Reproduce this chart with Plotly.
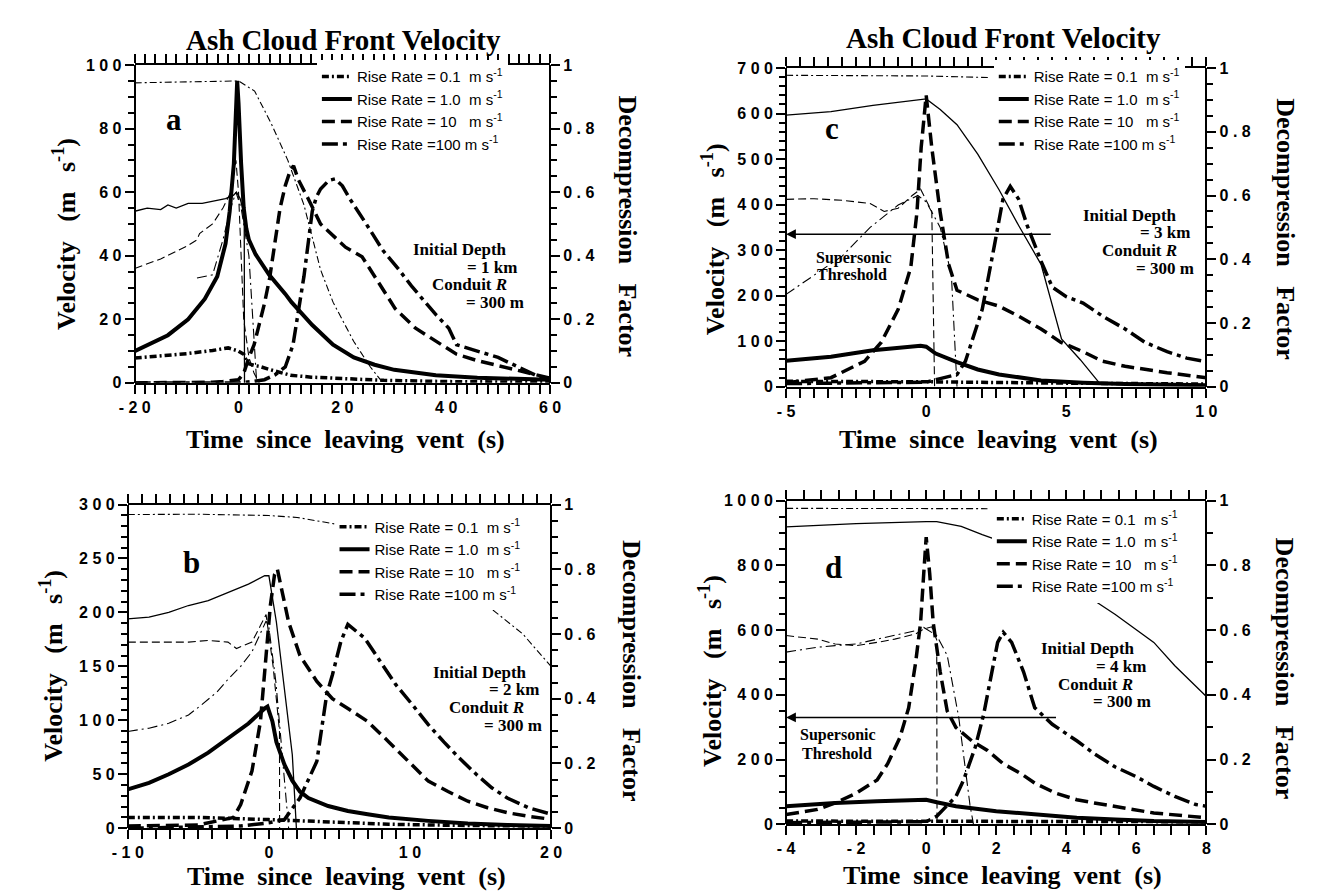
import plotly.graph_objects as go

W, H = 1322, 892

# ---------------- Panel a : initial depth 1 km ----------------
a_v01_t = [-20, -15, -10, -5, -2, 0, 1, 1.5, 2, 3, 4, 6, 8, 10, 14, 20, 28, 40, 60]
a_v01 = [7.8, 8.5, 9.2, 10.2, 11, 10, 9, 7, 6, 5.5, 5.2, 4.2, 3.2, 2.4, 1.8, 1.3, 0.8, 0.4, 0.2]
a_v1_t = [-20, -13.6, -9.7, -6.5, -4.1, -2.5, -1.7, -0.9, -0.26, 0, 0.5, 1, 1.5, 2, 3.3, 5.9, 9,
          10.2, 14.2, 18.2, 22.2, 26.2, 30, 38, 46, 60]
a_v1 = [10, 15, 20, 26.4, 33.5, 43.8, 54, 69, 95, 88, 69, 55, 48.6, 45, 40.4, 34, 28,
        25.4, 18.2, 12, 8, 5.7, 4.1, 2.4, 1.6, 1]
a_v10_t = [-20, -10, -5, -3, 0, 1, 2, 3, 4, 5, 6, 7, 8, 9, 10, 10.6, 11.5, 13.4, 15.8, 20.6,
           23.8, 27, 30.2, 34.1, 38, 42, 46, 54, 60]
a_v10 = [0, 0, 0.2, 0.4, 1, 3, 8, 12, 18, 25, 33, 44, 55, 62, 67, 68.3, 64, 58, 50, 42.7,
         39.7, 31.5, 23.3, 17.2, 13, 9, 7, 3.9, 1.5]
a_v100_t = [-20, 0, 3, 5, 7, 9, 10.5, 11.5, 12.6, 13.5, 14.2, 15, 15.8, 17.4, 18.6, 20, 21.4,
            24.6, 27.8, 30.9, 33.3, 38.1, 40.5, 42, 46, 50, 54, 58, 60]
a_v100 = [0, 0, 0.5, 1, 2.5, 5, 12, 22, 33.5, 45, 54, 58.5, 61, 63.7, 64.2, 62, 58,
          50, 41.7, 35.6, 30.5, 21.3, 17.2, 12, 10, 8, 4.9, 1.8, 1]
a_d01_t = [-20, -10, 0, 3.1, 6.3, 9.5, 12.6, 14.2, 15.8, 18.2, 22.2, 25.4, 27.8]
a_d01 = [0.944, 0.946, 0.95, 0.918, 0.816, 0.70, 0.56, 0.458, 0.356, 0.254, 0.13, 0.05, 0]
a_d1_t = [-20, -17.6, -15, -13.6, -12, -11.2, -9.7, -7, -5.7, -4, -2.5, -1, -0.4, 0.3, 0.8, 1.1, 1.15]
a_d1 = [0.54, 0.55, 0.545, 0.56, 0.55, 0.555, 0.565, 0.565, 0.57, 0.575, 0.58, 0.59, 0.6, 0.58,
        0.55, 0.5, 0]
a_d10_t = [-20, -15, -10, -8, -7.5, -5, -3, -1.5, -0.5, 0, 0.5, 1, 2, 3, 4]
a_d10 = [0.36, 0.39, 0.43, 0.45, 0.47, 0.5, 0.55, 0.6, 0.7, 0.6, 0.4, 0.2, 0.08, 0.03, 0]
a_d100_t = [-8, -5, -3, -1.5, -0.5, 0.5, 2, 3, 3.5]
a_d100 = [0.33, 0.34, 0.45, 0.55, 0.6, 0.55, 0.4, 0.15, 0]

# ---------------- Panel b : initial depth 2 km ----------------
b_v01_t = [-10, -5, 0, 2.8, 8.5, 14, 20]
b_v01 = [10, 10, 8, 6.8, 3.7, 2.5, 2]
b_v1_t = [-10, -8.5, -7.1, -5.7, -4.3, -2.9, -1.45, -0.3, -0.1, 0.25, 0.53, 1.1, 1.66, 2.2, 2.8,
          4.2, 5.6, 7, 8.5, 11.3, 14.1, 16.9, 20]
b_v1 = [36, 42, 50, 59, 70, 83.5, 97, 111, 112.7, 99, 80, 59, 44, 34, 28,
        20.6, 16, 13, 10, 6.8, 4.3, 3, 2]
b_v10_t = [-10, -5, -2.5, -2, -1.2, -0.6, -0.2, 0.1, 0.4, 0.6, 1.4, 2.2, 3.4, 4.5, 5.6, 7, 8.5,
           9.9, 11.3, 12.7, 14.1, 15.5, 16.9, 18.4, 20]
b_v10 = [2, 3, 10, 22, 53, 99, 160, 206, 235, 240, 191, 160, 136, 120, 111, 99, 80,
         62, 43.6, 34, 25, 19, 14.4, 11, 8.3]
b_v100_t = [-10, -2, 0, 0.5, 1.1, 2.2, 3.4, 4.1, 4.5, 5.1, 5.6, 6.8, 7.9, 9, 10.2, 11.3, 12.4,
            13.5, 14.7, 15.8, 16.9, 18.4, 20]
b_v100 = [0, 2, 5, 6, 8, 28, 62, 124, 142, 173, 189, 176, 154, 133, 114, 96, 80,
          65, 50, 37.5, 28, 19, 13]
b_d01_t = [-10, -5, 0, 2, 4, 6, 8, 10, 12, 14, 16, 18, 20]
b_d01 = [0.969, 0.97, 0.966, 0.96, 0.945, 0.93, 0.9, 0.86, 0.8, 0.74, 0.67, 0.6, 0.5]
b_d1_t = [-10, -8.5, -7.1, -5.7, -4.3, -2.9, -1.45, -0.3, 0, 0.53, 1.1, 1.66, 1.95]
b_d1 = [0.647, 0.652, 0.667, 0.688, 0.703, 0.729, 0.754, 0.78, 0.78, 0.637, 0.43, 0.227, 0]
b_d10_t = [-10, -5.7, -4.3, -2.9, -2.3, -1.2, -0.6, -0.2, 0.3, 0.75, 0.76]
b_d10 = [0.575, 0.575, 0.58, 0.575, 0.555, 0.575, 0.626, 0.66, 0.5, 0.3, 0]
b_d100_t = [-10, -8.5, -7.1, -5.7, -4.8, -3.7, -2.9, -2, -1.2, -0.6, -0.2, 0, 0.5, 1, 1.4]
b_d100 = [0.299, 0.309, 0.324, 0.35, 0.38, 0.42, 0.46, 0.5, 0.545, 0.6, 0.64, 0.62, 0.45, 0.2, 0]

# ---------------- Panel c : initial depth 3 km ----------------
c_v01_t = [-5, 0, 5, 10]
c_v01 = [12, 11, 8, 6]
c_v1_t = [-5, -3.4, -1.9, -0.4, -0.2, 0, 0.34, 1.1, 1.84, 2.6, 3.3, 4.1, 5.6, 7.1, 10]
c_v1 = [57, 66, 80, 89, 90, 88, 73, 54, 38, 27, 20, 14, 9, 6, 3.5]
c_v10_t = [-5, -3.4, -2.2, -1.6, -1.0, -0.55, -0.33, -0.18, 0, 0.2, 0.5, 0.8, 1.1, 1.84, 2.6,
           3.3, 4.1, 4.8, 5.6, 6.3, 7.1, 8.6, 10]
c_v10 = [9, 20, 56, 98, 170, 262, 383, 525, 640, 525, 383, 269, 212, 191, 177,
         155, 127, 98, 77, 56, 45, 31, 20]
c_v100_t = [-5, -1, 0, 0.5, 1.1, 1.4, 2.0, 2.44, 2.74, 3.0, 3.3, 3.6, 4.1, 4.5, 5.0, 5.6, 6.3,
            7.1, 7.8, 8.6, 9.3, 10]
c_v100 = [7, 8, 10, 18, 27, 56, 170, 312, 412, 440, 412, 355, 276, 219, 198, 184, 155,
          127, 98, 77, 63, 55]
c_d01_t = [-5, 0, 2.2]
c_d01 = [0.977, 0.975, 0.97]
c_d1_t = [-5, -3.4, -1.9, -0.4, 0, 0.5, 1.1, 1.84, 2.6, 3.3, 4.1, 4.83, 5.5, 6.2]
c_d1 = [0.852, 0.863, 0.883, 0.898, 0.903, 0.87, 0.822, 0.73, 0.618, 0.506, 0.384, 0.15, 0.085, 0.01]
c_d10_t = [-5, -4, -3, -2, -1.5, -1, -0.5, -0.2, 0.2, 0.3]
c_d10 = [0.588, 0.59, 0.585, 0.575, 0.55, 0.56, 0.6, 0.62, 0.55, 0]
c_d100_t = [-5, -4, -3, -2, -1, -0.3, 0, 0.5, 0.9, 1.1]
c_d100 = [0.29, 0.35, 0.41, 0.5, 0.57, 0.6, 0.58, 0.5, 0.35, 0]

# ---------------- Panel d : initial depth 4 km ----------------
d_v01_t = [-4, 0, 4, 8]
d_v01 = [10, 10, 9, 8]
d_v1_t = [-4, -2.6, -1.4, -0.3, 0, 0.3, 0.85, 2, 3.1, 4.3, 5.4, 6.5, 8]
d_v1 = [56, 66, 71, 76, 76, 68, 56, 40.5, 30, 20, 15, 10, 7]
d_v10_t = [-4, -3.1, -2.6, -2, -1.4, -1.1, -0.75, -0.5, -0.3, -0.16, -0.07, 0, 0.1, 0.2, 0.4, 0.6,
           0.85, 1.3, 1.75, 2.2, 2.7, 3.1, 3.7, 4.3, 4.8, 5.4, 6.5, 8]
d_v10 = [30, 46, 66, 96, 137, 187, 268, 360, 501, 623, 775, 887, 775, 623, 471, 350,
         299, 258, 228, 187, 157, 127, 96, 76, 66, 56, 35, 20]
d_v100_t = [-4, 0, 0.3, 0.6, 0.85, 1.07, 1.4, 1.64, 1.87, 2.04, 2.2, 2.44, 2.78, 3.1, 3.6, 4.3,
            4.8, 5.4, 6, 6.5, 7.1, 7.7, 8]
d_v100 = [5, 8, 25, 60, 86, 137, 238, 339, 461, 562, 593, 562, 471, 360, 309, 258,
          218, 177, 147, 117, 86, 61, 56]
d_d01_t = [-4, 0, 1.75]
d_d01 = [0.976, 0.976, 0.975]
d_d1_t = [-4, -2, 0, 0.3, 1, 1.6, 2.5, 3.5, 4.6, 5.4, 6.5, 7.1, 8]
d_d1 = [0.919, 0.929, 0.935, 0.935, 0.92, 0.895, 0.86, 0.8, 0.705, 0.648, 0.562, 0.49, 0.395]
d_d10_t = [-4, -3.1, -2.6, -2, -1.4, -0.9, -0.3, -0.07, 0.16, 0.3, 0.31]
d_d10 = [0.583, 0.572, 0.557, 0.552, 0.562, 0.572, 0.588, 0.603, 0.61, 0.57, 0]
d_d100_t = [-4, -3.1, -2.6, -2, -1.4, -0.9, -0.3, -0.07, 0.3, 0.6, 0.93, 1.25, 1.35]
d_d100 = [0.532, 0.547, 0.552, 0.557, 0.572, 0.583, 0.598, 0.608, 0.583, 0.522, 0.33, 0.06, 0]

# supersonic threshold (m/s) read for panels c and d
c_supersonic = 335
d_supersonic = 330

RATES = ["0.1", "1.0", "10", "100"]
NB = "\u00a0"
LEG_TEXT = {
    "0.1": "Rise Rate = 0.1" + NB + " m s<sup>-1</sup>",
    "1.0": "Rise Rate = 1.0" + NB + " m s<sup>-1</sup>",
    "10": "Rise Rate = 10" + NB + NB + " m s<sup>-1</sup>",
    "100": "Rise Rate =100 m s<sup>-1</sup>",
}
THICK = {
    "0.1": dict(width=3.5, dash="7px,3px,2px,3px"),
    "1.0": dict(width=4, dash="solid"),
    "10": dict(width=3.5, dash="13px,6px"),
    "100": dict(width=3.5, dash="16px,5px,4px,5px"),
}
THIN = {
    "0.1": dict(width=1.1, dash="7px,3px,2px,3px"),
    "1.0": dict(width=1.3, dash="solid"),
    "10": dict(width=1.1, dash="8px,4px"),
    "100": dict(width=1.1, dash="10px,4px,2px,4px"),
}

PANELS = {
    "a": dict(x="x", y="y", y2="y2", legend="legend",
              vel=[(a_v01_t, a_v01), (a_v1_t, a_v1), (a_v10_t, a_v10), (a_v100_t, a_v100)],
              dec=[(a_d01_t, a_d01), (a_d1_t, a_d1), (a_d10_t, a_d10), (a_d100_t, a_d100)]),
    "b": dict(x="x2", y="y3", y2="y4", legend="legend2",
              vel=[(b_v01_t, b_v01), (b_v1_t, b_v1), (b_v10_t, b_v10), (b_v100_t, b_v100)],
              dec=[(b_d01_t, b_d01), (b_d1_t, b_d1), (b_d10_t, b_d10), (b_d100_t, b_d100)]),
    "c": dict(x="x3", y="y5", y2="y6", legend="legend3",
              vel=[(c_v01_t, c_v01), (c_v1_t, c_v1), (c_v10_t, c_v10), (c_v100_t, c_v100)],
              dec=[(c_d01_t, c_d01), (c_d1_t, c_d1), (c_d10_t, c_d10), (c_d100_t, c_d100)]),
    "d": dict(x="x4", y="y7", y2="y8", legend="legend4",
              vel=[(d_v01_t, d_v01), (d_v1_t, d_v1), (d_v10_t, d_v10), (d_v100_t, d_v100)],
              dec=[(d_d01_t, d_d01), (d_d1_t, d_d1), (d_d10_t, d_d10), (d_d100_t, d_d100)]),
}

fig = go.Figure()
for key, p in PANELS.items():
    for rate, (tt, vv) in zip(RATES, p["dec"]):
        fig.add_trace(go.Scatter(x=tt, y=vv, mode="lines", xaxis=p["x"], yaxis=p["y2"],
                                 line=dict(color="black", **THIN[rate]), showlegend=False,
                                 hoverinfo="skip"))
    for rate, (tt, vv) in zip(RATES, p["vel"]):
        fig.add_trace(go.Scatter(x=tt, y=vv, mode="lines", xaxis=p["x"], yaxis=p["y"],
                                 line=dict(color="black", **THICK[rate]), name=LEG_TEXT[rate],
                                 legend=p["legend"], showlegend=True))


def fx(p):
    return p / W


def fy(p):
    return 1 - p / H


TICKFONT = dict(family="Liberation Sans", size=16, color="black", weight="bold")
SERIF = "Liberation Serif"


def fmt(v):
    s = "%g" % v
    return s.replace("-", "\u2212")


def spaced(v):
    s = "%g" % v
    return " ".join(list(s))


def alias(rng, step):
    out = {}
    v = rng[0]
    while v <= rng[1] + 1e-9:
        vv = round(v, 6)
        out[fmt(vv)] = spaced(vv)
        v += step
    return out


def common(rng, step, minor, ticklen=9):
    return dict(range=rng, showline=True, linewidth=2, linecolor="black",
                ticks="outside", ticklen=ticklen, tickwidth=2, tickcolor="black",
                tickmode="linear", tick0=rng[0], dtick=step, labelalias=alias(rng, step),
                tickfont=TICKFONT, showgrid=False, zeroline=False,
                minor=dict(ticks="outside", dtick=minor, tick0=rng[0], ticklen=6,
                           tickwidth=1.5, tickcolor="black", showgrid=False))


def xaxis(dom, rng, step, minor, anchor):
    d = common(rng, step, minor)
    d.update(domain=[fx(dom[0]), fx(dom[1])], anchor=anchor, mirror="allticks")
    return d


def yaxis(xdom, ydom, rng, step, minor, side="left", overlay=None):
    d = common(rng, step, minor)
    pos = fx(xdom[0]) if side == "left" else fx(xdom[1])
    d.update(anchor="free", position=pos, side=side)
    if overlay:
        d["overlaying"] = overlay
    else:
        d["domain"] = [fy(ydom[1]), fy(ydom[0])]
    return d


# frames in pixels: (left, right), (top, bottom)
FRAMES = {
    "a": ((113, 537), (50, 374)),
    "b": ((106, 538), (498, 828)),
    "c": ((778, 1207), (53, 378)),
    "d": ((778, 1207), (494, 824)),
}
# x range/step/minor, velocity range/step/minor, DF step/minor
SCALES = {
    "a": ([-20, 60], 20, 2, [0, 100], 20, 5, 0.2, 0.05),
    "b": ([-10, 20], 10, 1, [0, 300], 50, 10, 0.2, 0.05),
    "c": ([-5, 10], 5, 0.5, [0, 700], 100, 20, 0.2, 0.05),
    "d": ([-4, 8], 2, 0.5, [0, 1000], 200, 50, 0.2, 0.1),
}


def lname(axid):
    return ("xaxis" if axid[0] == "x" else "yaxis") + axid[1:]


layout = dict(width=W, height=H, margin=dict(l=0, r=0, t=0, b=0),
              paper_bgcolor="white", plot_bgcolor="rgba(0,0,0,0)", showlegend=True)
for key, p in PANELS.items():
    fxr, fyr = FRAMES[key]
    xr, xs, xm, vr, vs, vm, ds, dm = SCALES[key]
    layout[lname(p["x"])] = xaxis(fxr, xr, xs, xm, p["y"])
    layout[lname(p["y"])] = yaxis(fxr, fyr, vr, vs, vm)
    layout[lname(p["y2"])] = yaxis(fxr, fyr, [0, 1], ds, dm, "right", p["y"])

LEGFONT = dict(family="Liberation Sans", size=15, color="black")
for name, (lx, ly) in {"legend": (299, 45), "legend2": (317, 504),
                       "legend3": (990, 45), "legend4": (988, 496)}.items():
    layout[name] = dict(x=fx(lx), y=fy(ly), xanchor="left", yanchor="top",
                        bgcolor="white", borderwidth=0, font=LEGFONT, tracegroupgap=0,
                        itemclick=False, itemdoubleclick=False)

fig.update_layout(**layout)

ann = []


def text(xp, yp, s, size, xanchor="center", angle=0, family=SERIF):
    ann.append(dict(x=fx(xp), y=fy(yp), xref="paper", yref="paper", text=s, showarrow=False,
                    xanchor=xanchor, yanchor="middle", textangle=angle,
                    font=dict(family=family, size=size, color="black", weight="bold")))


TITLE = "Ash Cloud Front Velocity"
XT = "Time" + NB + " since" + NB + " leaving" + NB + " vent" + NB + " (s)"
YT = "Velocity" + NB + NB + " (m" + NB + NB + " s<sup>-1</sup>)"
RT = "Decompression" + NB + NB + " Factor"

text(326, 24, TITLE, 29)
text(1000, 22, TITLE, 29)
for cx, cy in [(328, 432), (995, 432), (329, 877), (999, 876)]:
    text(cx, cy, XT, 26)
for cx, cy in [(42, 222), (704, 228), (28, 662), (701, 668)]:
    text(cx, cy, YT, 26, angle=-90)
for cx, cy in [(616, 215), (1287, 217), (620, 668), (1287, 665)]:
    text(cx, cy, RT, 26, angle=90)

for s, cx, cy in [("a", 153, 106), ("c", 825, 115), ("b", 171, 557), ("d", 826, 562)]:
    text(cx, cy, s, 31)

DEPTH = {
    "a": ("1", [(495, 238), (505, 256), (495, 274), (512, 292)]),
    "c": ("3", [(1179, 203), (1192, 221), (1179, 239), (1196, 257)]),
    "b": ("2", [(516, 669), (528, 687), (512, 705), (531, 723)]),
    "d": ("4", [(1136, 645), (1147, 663), (1134, 681), (1153, 699)]),
}
for key, (km, pos) in DEPTH.items():
    lines = ["Initial Depth", "= %s km" % km, "Conduit <i>R</i>", "= 300 m"]
    for s, (rx, cy) in zip(lines, pos):
        text(rx, cy, s, 17, xanchor="right")

ann.append(dict(x=-5, y=c_supersonic, ax=4.5, ay=c_supersonic, xref="x3", yref="y5",
                axref="x3", ayref="y5", text="", showarrow=True, arrowhead=2, arrowsize=1.3,
                arrowwidth=1.5, arrowcolor="black"))
ann.append(dict(x=-4, y=d_supersonic, ax=3.75, ay=d_supersonic, xref="x4", yref="y7",
                axref="x4", ayref="y7", text="", showarrow=True, arrowhead=2, arrowsize=1.3,
                arrowwidth=1.5, arrowcolor="black"))
text(847, 247, "Supersonic", 16)
text(845, 264, "Threshold", 16)
text(831, 733, "Supersonic", 16)
text(830, 752, "Threshold", 16)

fig.update_layout(annotations=ann)
fig.write_html("out.html")
